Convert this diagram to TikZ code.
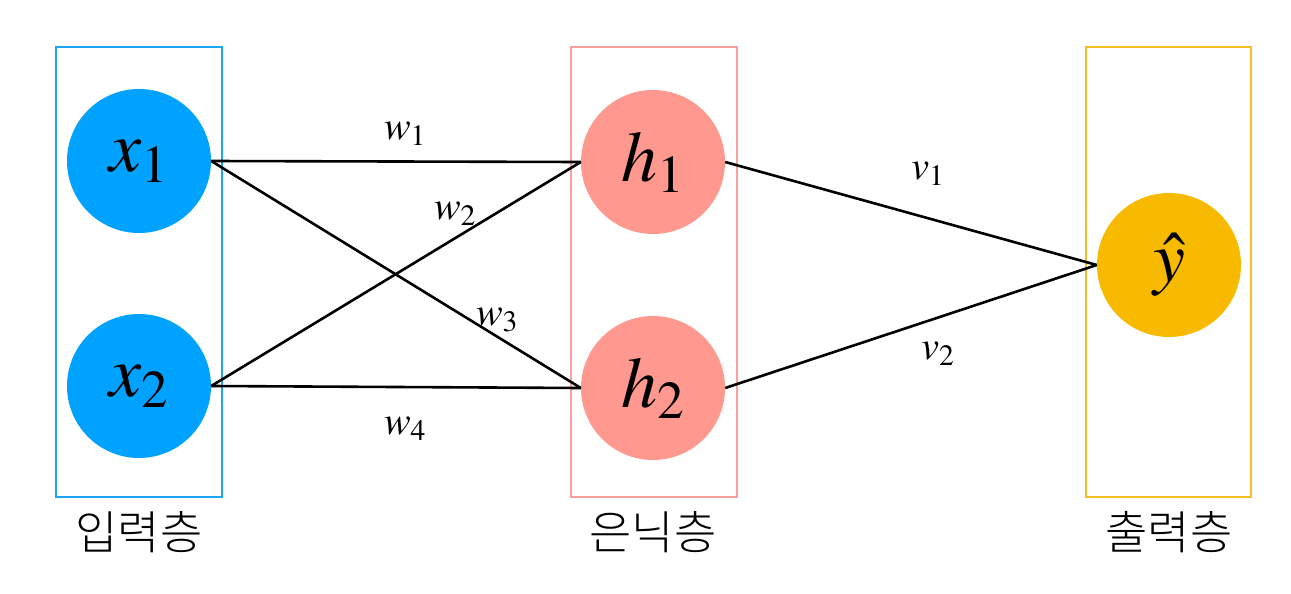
\documentclass[tikz,border=0pt]{standalone}
\usepackage{mathptmx}
\usepackage{fontspec}
\newfontfamily\kr{Noto Sans CJK KR Light}
\definecolor{cblue}{RGB}{0,162,255}
\definecolor{cpink}{RGB}{255,152,142}
\definecolor{corange}{RGB}{247,186,0}
\definecolor{bblue}{RGB}{30,165,245}
\definecolor{bpink}{RGB}{248,160,160}
\definecolor{borange}{RGB}{246,190,40}
\begin{document}
\begin{tikzpicture}[x=1pt,y=-1pt,
  neuron/.style={circle,minimum size=144pt,inner sep=0pt,font=\fontsize{72}{72}\selectfont},
  layerbox/.style={line width=2.2pt},
  edge/.style={line width=2.6pt},
  wl/.style={font=\fontsize{40}{40}\selectfont},
  kl/.style={font=\kr\fontsize{46}{46}\selectfont}]
\useasboundingbox (0,0) rectangle (1291,594);
\draw[layerbox,draw=bblue] (56,47) rectangle (222,497);
\draw[layerbox,draw=bpink] (571,47) rectangle (737,497);
\draw[layerbox,draw=borange] (1086,47) rectangle (1251,497);
\node[neuron,fill=cblue] (x1) at (139,161) {$x_1$};
\node[neuron,fill=cblue] (x2) at (139,386) {$x_2$};
\node[neuron,fill=cpink] (h1) at (653,162) {$h_1$};
\node[neuron,fill=cpink] (h2) at (653,388) {$h_2$};
\node[neuron,fill=corange] (y) at (1169,265) {$\hat{y}$};
\draw[edge] (x1.east) -- (h1.west);
\draw[edge] (x1.east) -- (h2.west);
\draw[edge] (x2.east) -- (h1.west);
\draw[edge] (x2.east) -- (h2.west);
\draw[edge] (h1.east) -- (y.west);
\draw[edge] (h2.east) -- (y.west);
\node[wl] (w1) at (405,134) {$w_1$};
\node[wl] (w2) at (455,214) {$w_2$};
\node[wl] (w3) at (497,320) {$w_3$};
\node[wl] (w4) at (405,429) {$w_4$};
\node[wl] (v1) at (928,174) {$v_1$};
\node[wl] (v2) at (938,354) {$v_2$};
\node[kl] (l1) at (139,532) {입력층};
\node[kl] (l2) at (653,532) {은닉층};
\node[kl] (l3) at (1169,532) {출력층};
\end{tikzpicture}
\end{document}
